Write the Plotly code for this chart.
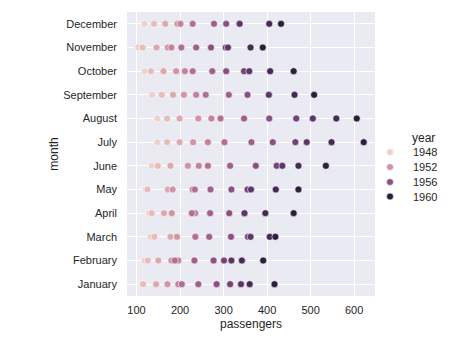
import numpy as np
import plotly.graph_objects as go

months = ["January", "February", "March", "April", "May", "June", "July",
          "August", "September", "October", "November", "December"]
years = list(range(1949, 1961))
passengers = [
    [112, 118, 132, 129, 121, 135, 148, 148, 136, 119, 104, 118],
    [115, 126, 141, 135, 125, 149, 170, 170, 158, 133, 114, 140],
    [145, 150, 178, 163, 172, 178, 199, 199, 184, 162, 146, 166],
    [171, 180, 193, 181, 183, 218, 230, 242, 209, 191, 172, 194],
    [196, 196, 236, 235, 229, 243, 264, 272, 237, 211, 180, 201],
    [204, 188, 235, 227, 234, 264, 302, 293, 259, 229, 203, 229],
    [242, 233, 267, 269, 270, 315, 364, 347, 312, 274, 237, 278],
    [284, 277, 317, 313, 318, 374, 413, 405, 355, 306, 271, 306],
    [315, 301, 356, 348, 355, 422, 465, 467, 404, 347, 305, 336],
    [340, 318, 362, 348, 363, 435, 491, 505, 404, 359, 310, 337],
    [360, 342, 406, 396, 420, 472, 548, 559, 463, 407, 362, 405],
    [417, 391, 419, 461, 472, 535, 622, 606, 508, 461, 390, 432],
]
legend_years = [1948, 1952, 1956, 1960]


def cubehelix(x, gamma=1.0, start=0.0, rot=0.4, hue=0.8):
    xg = x ** gamma
    a = hue * xg * (1 - xg) / 2
    phi = 2 * np.pi * (start / 3 + rot * x)
    r = xg + a * (-0.14861 * np.cos(phi) + 1.78277 * np.sin(phi))
    g = xg + a * (-0.29227 * np.cos(phi) - 0.90649 * np.sin(phi))
    b = xg + a * (1.97294 * np.cos(phi))
    rgb = np.clip([r, g, b], 0, 1)
    return "rgb(%d,%d,%d)" % tuple(int(round(v * 255)) for v in rgb)


def year_color(y):
    t = (y - min(years)) / (max(years) - min(years))
    t = min(max(t, 0.0), 1.0)
    return cubehelix(0.85 - 0.7 * t)


xs, ys, cs = [], [], []
for yi, yr in enumerate(years):
    for mi, m in enumerate(months):
        xs.append(passengers[yi][mi])
        ys.append(m)
        cs.append(year_color(yr))

fig = go.Figure()
fig.add_trace(go.Scatter(
    x=xs, y=ys, mode="markers",
    marker=dict(size=7, color=cs, line=dict(color="white", width=0.6)),
    showlegend=False, hoverinfo="skip"))

W, H = 476, 340
L, R, T, B = 127, 375, 12, 306
pw, ph = R - L, B - T

def px_x(p):
    return (p - L) / pw

def px_y(p):
    return (B - p) / ph

text_col = "#262626"
FONT = "Liberation Sans, Arial, sans-serif"

annotations = [dict(text="year", x=px_x(410), y=px_y(142), xref="paper", yref="paper",
                    xanchor="left", yanchor="middle", showarrow=False,
                    font=dict(size=12, color=text_col, family=FONT))]
shapes = []
entry_y = [157, 172.5, 188, 203]
for ly, py in zip(legend_years, entry_y):
    annotations.append(dict(text=str(ly), x=px_x(411), y=px_y(py), xref="paper", yref="paper",
                            xanchor="left", yanchor="middle", showarrow=False,
                            font=dict(size=11, color=text_col, family=FONT)))
    r = 3.5
    shapes.append(dict(type="circle", xref="paper", yref="paper",
                       x0=px_x(390 - r), x1=px_x(390 + r), y0=px_y(py + r), y1=px_y(py - r),
                       fillcolor=year_color(ly), line=dict(color="white", width=0.6)))

fig.update_layout(
    width=W, height=H,
    margin=dict(l=L, r=W - R, t=T, b=H - B),
    paper_bgcolor="white", plot_bgcolor="#EAEAF2",
    font=dict(family=FONT, size=11, color=text_col),
    annotations=annotations, shapes=shapes,
    xaxis=dict(range=[78.1, 647.9], tickvals=[100, 200, 300, 400, 500, 600],
               showgrid=True, gridcolor="white", gridwidth=1, zeroline=False,
               showline=False, ticks="", ticklabelstandoff=6,
               title=dict(text="passengers", font=dict(size=12, color=text_col), standoff=4),
               tickfont=dict(size=11, color=text_col)),
    yaxis=dict(type="category", categoryorder="array", categoryarray=months,
               range=[-0.5, 11.5], showgrid=True, gridcolor="white", gridwidth=1,
               zeroline=False, showline=False, ticks="", ticklabelstandoff=9,
               title=dict(text="month", font=dict(size=12, color=text_col), standoff=1),
               tickfont=dict(size=11, color=text_col)),
)

fig.write_html("out.html")
